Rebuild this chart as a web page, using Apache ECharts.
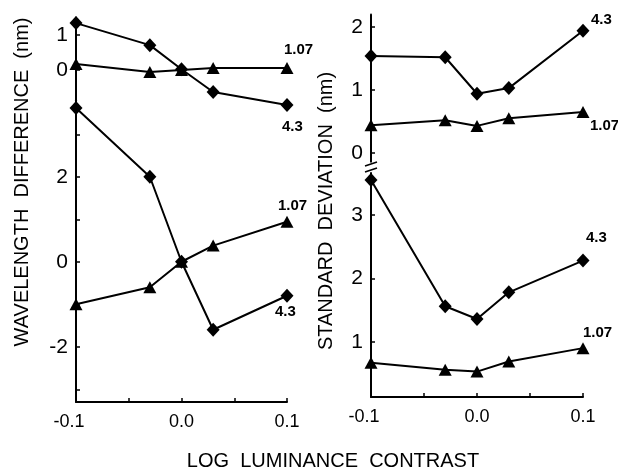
<!DOCTYPE html>
<html>
<head>
<meta charset="utf-8">
<script src="https://cdn.jsdelivr.net/npm/echarts@6/dist/echarts.min.js"></script>
<style>
  html, body { margin: 0; background: #fff; }
  #chart { width: 618px; height: 475px; }
</style>
</head>
<body>
<div id="chart"></div>
<script>
// log luminance contrast (x)
const contrast = [-0.1, -0.03, 0, 0.03, 0.1];
const xLabels = [-0.1, 0, 0.1];
const xTicks = [-0.1, -0.05, 0, 0.05, 0.1];

// wavelength difference (nm), upper and lower panels
const wlUpper43 = [1.34, 0.71, 0.02, -0.63, -1.0];
const wlUpper107 = [0.17, -0.06, 0, 0.06, 0.06];
const wlLower43 = [3.62, 2.0, 0, -1.6, -0.8];
const wlLower107 = [-1.0, -0.6, 0, 0.38, 0.94];

// standard deviation (nm), upper and lower panels
const sdUpper43 = [1.54, 1.52, 0.94, 1.03, 1.94];
const sdUpper107 = [0.44, 0.52, 0.43, 0.55, 0.65];
const sdLower43 = [3.55, 1.56, 1.36, 1.78, 2.28];
const sdLower107 = [0.67, 0.56, 0.53, 0.69, 0.9];

const FONT = '"Liberation Sans", Arial, sans-serif';

const chart = echarts.init(document.getElementById('chart'));

function xAxis(gridIndex, show) {
  return {
    type: 'value', gridIndex, min: -0.1, max: 0.1, show,
    splitLine: { show: false },
    axisLine: { onZero: false, lineStyle: { color: '#000', width: 2 } },
    axisTick: { inside: true, length: 4, customValues: xTicks, lineStyle: { color: '#000', width: 1.5 } },
    axisLabel: {
      customValues: xLabels, margin: 11, color: '#000', fontFamily: FONT, fontSize: 18,
      // the minus sign hangs left of the tick in the original
      formatter: v => v < 0 ? v.toFixed(1) + '{gap|}' : v.toFixed(1),
      rich: { gap: { width: 14 } }
    }
  };
}

function yAxis(gridIndex, min, max, ticks, labels) {
  return {
    type: 'value', gridIndex, min, max,
    splitLine: { show: false },
    axisLine: { show: true, onZero: false, lineStyle: { color: '#000', width: 2 } },
    axisTick: { show: true, inside: true, length: 4, customValues: ticks, lineStyle: { color: '#000', width: 1.5 } },
    axisLabel: { customValues: labels, margin: 8, color: '#000', fontFamily: FONT, fontSize: 21 }
  };
}

function line(name, idx, values, symbol, offset) {
  return {
    type: 'line', name, xAxisIndex: idx, yAxisIndex: idx,
    data: values.map((v, i) => [contrast[i], v]),
    symbol, symbolSize: symbol === 'diamond' ? [13, 14] : [13, 12],
    lineStyle: { color: '#000', width: 2 },
    itemStyle: { color: '#000' },
    endLabel: {
      show: true, formatter: '{a}', offset,
      color: '#000', fontFamily: FONT, fontWeight: 'bold', fontSize: 15
    },
    animation: false
  };
}

chart.setOption({
  animation: false,
  grid: [
    { left: 76, top: 17.5, width: 211, height: 94.5, outerBoundsMode: 'none' },
    { left: 76, top: 100.25, width: 211, height: 301.75, outerBoundsMode: 'none' },
    { left: 371, top: 14.4, width: 212, height: 147.4, outerBoundsMode: 'none' },
    { left: 371, top: 173, width: 212, height: 224, outerBoundsMode: 'none' }
  ],
  xAxis: [xAxis(0, false), xAxis(1, true), xAxis(2, false), xAxis(3, true)],
  yAxis: [
    yAxis(0, -1.2, 1.5, [0, 1], [0, 1]),
    yAxis(1, -3.3, 3.8, [-3, -2, -1, 0, 1, 2, 3], [-2, 0, 2]),
    yAxis(2, -0.14, 2.2, [0, 1, 2], [0, 1, 2]),
    yAxis(3, 0.13, 3.66, [1, 2, 3], [1, 2, 3])
  ],
  series: [
    line('4.3', 0, wlUpper43, 'diamond', [-13, 22]),
    line('1.07', 0, wlUpper107, 'triangle', [-11, -18]),
    line('4.3', 1, wlLower43, 'diamond', [-20, 16]),
    line('1.07', 1, wlLower107, 'triangle', [-17, -16]),
    line('4.3', 2, sdUpper43, 'diamond', [0, -11]),
    line('1.07', 2, sdUpper107, 'triangle', [-1, 14]),
    line('4.3', 3, sdLower43, 'diamond', [-5, -23]),
    line('1.07', 3, sdLower107, 'triangle', [-8, -15])
  ],
  graphic: [
    {
      type: 'text', x: 22, y: 182, rotation: Math.PI / 2,
      style: { text: 'WAVELENGTH  DIFFERENCE  (nm)', font: '20px ' + FONT, fill: '#000', align: 'center', verticalAlign: 'middle' }
    },
    {
      type: 'text', x: 326, y: 211, rotation: Math.PI / 2,
      style: { text: 'STANDARD  DEVIATION  (nm)', font: '20px ' + FONT, fill: '#000', align: 'center', verticalAlign: 'middle' }
    },
    {
      type: 'text', x: 333, y: 461,
      style: { text: 'LOG  LUMINANCE  CONTRAST', font: '20px ' + FONT, fill: '#000', align: 'center', verticalAlign: 'middle' }
    },
    {
      type: 'group', x: 371, y: 167,
      children: [
        { type: 'line', shape: { x1: -6, y1: -1, x2: 6, y2: -5 }, style: { stroke: '#000', lineWidth: 1.5 } },
        { type: 'line', shape: { x1: -6, y1: 5, x2: 6, y2: 1 }, style: { stroke: '#000', lineWidth: 1.5 } }
      ]
    }
  ]
});
</script>
</body>
</html>
